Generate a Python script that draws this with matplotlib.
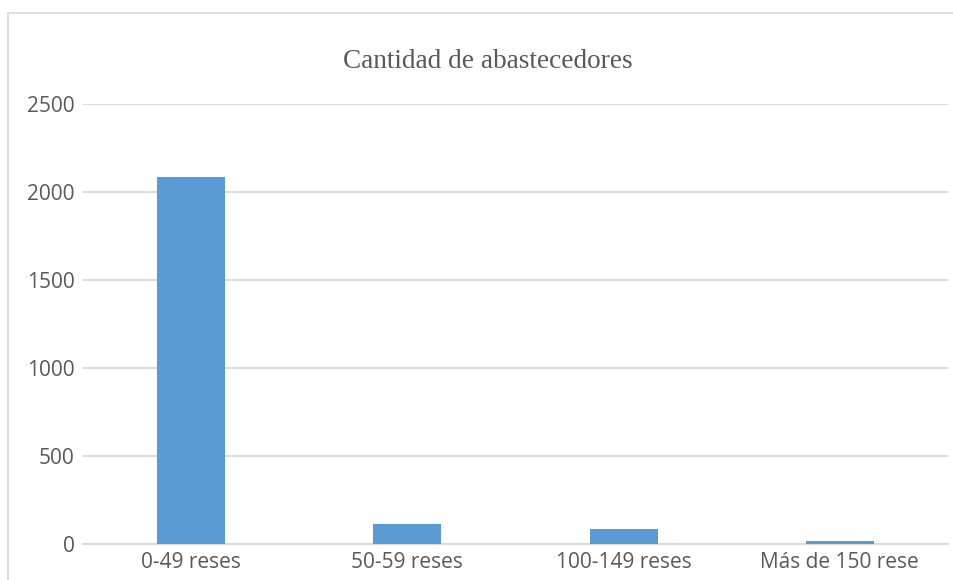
import matplotlib.pyplot as plt
from matplotlib.lines import Line2D

# datos
categorias = ["0-49 reses", "50-59 reses", "100-149 reses", "Más de 150 rese"]
abastecedores = [2083, 110, 81, 15]
yticks = [0, 500, 1000, 1500, 2000, 2500]

gris = "#595959"
linea = "#d9d9d9"

fig = plt.figure(figsize=(9.54, 5.8), dpi=100)
ax = fig.add_axes([83 / 954, 1 - 543.5 / 580, 865 / 954, 440 / 580])

x = range(len(categorias))
ax.bar(x, abastecedores, width=0.315, color="#5b9bd5", zorder=3)

ax.set_xlim(-0.5, len(categorias) - 0.5)
ax.set_ylim(0, 2500)
ax.set_yticks(yticks)
ax.set_xticks(list(x))
ax.set_xticklabels(categorias)

ax.grid(axis="y", color=linea, linewidth=1.3, zorder=0)
for s in ["top", "right", "left"]:
    ax.spines[s].set_visible(False)
ax.spines["bottom"].set_color(linea)
ax.spines["bottom"].set_linewidth(1.3)
ax.tick_params(length=0, labelcolor=gris, labelsize=15)
ax.tick_params(axis="y", pad=6)
ax.tick_params(axis="x", pad=6)
for t in ax.get_xticklabels() + ax.get_yticklabels():
    t.set_fontfamily("Open Sans")

fig.text(488 / 954, 1 - 61 / 580, "Cantidad de abastecedores", ha="center", va="center",
         fontsize=19.6, color=gris, fontfamily="Liberation Serif")

# borde del gráfico
fig.add_artist(Line2D([8 / 954, 8 / 954], [0, 1 - 13 / 580], color=linea, linewidth=1.2))
fig.add_artist(Line2D([8 / 954, 1], [1 - 13 / 580, 1 - 13 / 580], color=linea, linewidth=1.2))

fig.savefig("out.png", dpi=100)
